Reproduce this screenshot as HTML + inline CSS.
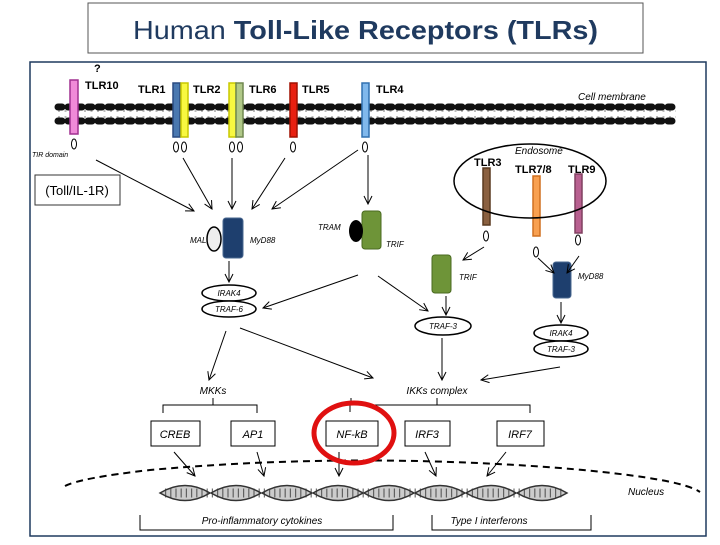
<!DOCTYPE html>
<html><head><meta charset="utf-8"><style>
body{margin:0;background:#fff;width:720px;height:540px;overflow:hidden;font-family:"Liberation Sans",sans-serif}
</style></head><body>
<svg width="720" height="540" viewBox="0 0 720 540" xmlns="http://www.w3.org/2000/svg" font-family="Liberation Sans, sans-serif">
<defs>
<marker id="a" markerWidth="10" markerHeight="10" refX="9" refY="5" orient="auto" markerUnits="userSpaceOnUse"><path d="M1,1 L9,5 L1,9" fill="none" stroke="#000" stroke-width="1"/></marker>
</defs>
<rect x="88" y="3" width="555" height="50" fill="#fff" stroke="#555" stroke-width="1"/>
<text x="133" y="39" textLength="465" lengthAdjust="spacingAndGlyphs" font-size="26" fill="#1f3a5f">Human <tspan font-weight="bold">Toll-Like Receptors (TLRs)</tspan></text>
<rect x="30" y="62" width="676" height="474" fill="#fff" stroke="#1f3a5f" stroke-width="1.5"/>
<path d="M58,111 H676 M58,117 H676" stroke="#bbb" stroke-width="2" stroke-dasharray="2 4.5"/>
<path d="M58,107 H676" stroke="#111" stroke-width="7" stroke-linecap="round" stroke-dasharray="4 6"/>
<path d="M58,121 H676" stroke="#111" stroke-width="7" stroke-linecap="round" stroke-dasharray="4 6"/>
<g stroke-width="1.5">
<rect x="70" y="80" width="8" height="54" fill="#f08ad8" stroke="#a03090"/>
<rect x="173" y="83" width="7" height="54" fill="#4a78b0" stroke="#2a4a80"/>
<rect x="181" y="83" width="7" height="54" fill="#f8f840" stroke="#c8c800"/>
<rect x="229" y="83" width="7" height="54" fill="#f8f840" stroke="#c8c800"/>
<rect x="236" y="83" width="7" height="54" fill="#b0c888" stroke="#708850"/>
<rect x="290" y="83" width="7" height="54" fill="#e82010" stroke="#a01000"/>
<rect x="362" y="83" width="7" height="54" fill="#80b8ec" stroke="#3070b0"/>
<rect x="483" y="168" width="7" height="57" fill="#8a6040" stroke="#5a3a20"/>
<rect x="533" y="176" width="7" height="60" fill="#f8a050" stroke="#d07020"/>
<rect x="575" y="174" width="7" height="59" fill="#b86090" stroke="#804060"/>
</g>
<g fill="#fff" stroke="#000" stroke-width="1">
<ellipse cx="74" cy="144" rx="2.5" ry="5"/><ellipse cx="176" cy="147" rx="2.5" ry="5"/><ellipse cx="184" cy="147" rx="2.5" ry="5"/>
<ellipse cx="232" cy="147" rx="2.5" ry="5"/><ellipse cx="240" cy="147" rx="2.5" ry="5"/><ellipse cx="293" cy="147" rx="2.5" ry="5"/>
<ellipse cx="365" cy="147" rx="2.5" ry="5"/><ellipse cx="486" cy="236" rx="2.5" ry="5"/><ellipse cx="536" cy="252" rx="2.5" ry="5"/><ellipse cx="578" cy="240" rx="2.5" ry="5"/>
</g>
<g font-weight="bold" font-size="11">
<text x="94" y="72">?</text><text x="85" y="89">TLR10</text><text x="138" y="93">TLR1</text><text x="193" y="93">TLR2</text><text x="249" y="93">TLR6</text><text x="302" y="93">TLR5</text><text x="376" y="93">TLR4</text>
<text x="474" y="166">TLR3</text><text x="515" y="173">TLR7/8</text><text x="568" y="173">TLR9</text>
</g>
<g font-style="italic" font-size="10">
<text x="578" y="100">Cell membrane</text><text x="32" y="157" font-size="7">TIR domain</text><text x="515" y="154">Endosome</text>
<text x="628" y="495">Nucleus</text>
</g>
<ellipse cx="530" cy="181" rx="76" ry="37" fill="none" stroke="#000" stroke-width="1.5"/>
<rect x="35" y="175" width="85" height="30" fill="#fff" stroke="#333"/>
<text x="77" y="195" text-anchor="middle" font-size="13">(Toll/IL-1R)</text>
<rect x="223" y="218" width="20" height="40" rx="3" fill="#1e3f6e" stroke="#4a6890"/>
<ellipse cx="214" cy="239" rx="7" ry="12" fill="#eee" stroke="#000" stroke-width="1.5"/>
<rect x="362" y="211" width="19" height="38" rx="3" fill="#6e9438" stroke="#4a6a20"/>
<ellipse cx="356" cy="231" rx="7" ry="11" fill="#000"/>
<rect x="432" y="255" width="19" height="38" rx="3" fill="#6e9438" stroke="#4a6a20"/>
<rect x="553" y="262" width="18" height="36" rx="3" fill="#1e3f6e" stroke="#4a6890"/>
<g font-style="italic" font-size="8">
<text x="190" y="243">MAL</text><text x="250" y="243">MyD88</text><text x="318" y="230">TRAM</text><text x="386" y="247">TRIF</text>
<text x="459" y="280">TRIF</text><text x="578" y="279">MyD88</text>
</g>
<g fill="#fff" stroke="#000" stroke-width="1.5">
<ellipse cx="229" cy="293" rx="27" ry="8"/><ellipse cx="229" cy="309" rx="27" ry="8"/>
<ellipse cx="443" cy="326" rx="28" ry="9"/>
<ellipse cx="561" cy="333" rx="27" ry="8"/><ellipse cx="561" cy="349" rx="27" ry="8"/>
</g>
<g font-style="italic" font-size="8" text-anchor="middle">
<text x="229" y="296">IRAK4</text><text x="229" y="312">TRAF-6</text><text x="443" y="329">TRAF-3</text><text x="561" y="336">IRAK4</text><text x="561" y="352">TRAF-3</text>
</g>
<g font-style="italic" font-size="10" text-anchor="middle"><text x="213" y="394">MKKs</text><text x="437" y="394">IKKs complex</text></g>
<g stroke="#000" stroke-width="1" fill="none" marker-end="url(#a)">
<line x1="96" y1="160" x2="194" y2="211"/><line x1="183" y1="158" x2="212" y2="209"/><line x1="232" y1="158" x2="232" y2="209"/>
<line x1="285" y1="158" x2="252" y2="209"/><line x1="358" y1="150" x2="272" y2="209"/><line x1="368" y1="155" x2="368" y2="204"/>
<line x1="484" y1="247" x2="463" y2="260"/>
<line x1="538" y1="258" x2="554" y2="273"/><line x1="579" y1="256" x2="567" y2="273"/>
<line x1="229" y1="261" x2="229" y2="282"/><line x1="358" y1="275" x2="263" y2="308"/><line x1="378" y1="276" x2="428" y2="311"/>
<line x1="446" y1="296" x2="446" y2="315"/><line x1="561" y1="302" x2="561" y2="323"/>
<line x1="226" y1="331" x2="209" y2="380"/><line x1="240" y1="328" x2="373" y2="378"/><line x1="442" y1="338" x2="442" y2="380"/>
<line x1="560" y1="367" x2="481" y2="380"/>
<line x1="174" y1="452" x2="195" y2="476"/><line x1="257" y1="452" x2="264" y2="476"/><line x1="339" y1="452" x2="339" y2="476"/>
<line x1="425" y1="452" x2="436" y2="476"/><line x1="506" y1="452" x2="487" y2="476"/>
</g>
<g stroke="#000" stroke-width="1" fill="none">
<path d="M163,413 V405 H257 V413 M213,405 V398"/><path d="M350,412 V405 H530 V413 M437,405 V398 M351,405 V398"/>
<path d="M140,515 V530 H393 V515"/><path d="M432,515 V530 H591 V515"/>
<path d="M65,486 Q80,478 150,470 Q350,452 560,468 Q680,478 700,492" stroke-dasharray="7 5" stroke-width="2"/>
</g>
<g fill="#fff" stroke="#000" stroke-width="1">
<rect x="151" y="421" width="49" height="25"/><rect x="231" y="421" width="44" height="25"/><rect x="326" y="421" width="52" height="25"/>
<rect x="405" y="421" width="45" height="25"/><rect x="497" y="421" width="47" height="25"/>
</g>
<g font-style="italic" font-size="11" text-anchor="middle">
<text x="175" y="438">CREB</text><text x="253" y="438">AP1</text><text x="352" y="438">NF-kB</text><text x="427" y="438">IRF3</text><text x="520" y="438">IRF7</text>
<text x="262" y="524" font-size="10">Pro-inflammatory cytokines</text><text x="489" y="524" font-size="10">Type I interferons</text>
</g>
<ellipse cx="354" cy="433" rx="40" ry="30" fill="none" stroke="#e01010" stroke-width="5"/>
<g stroke="#333" stroke-width="1.5" fill="#ccc">
<path d="M160,493 Q185,478 210,493 Q185,508 160,493Z"/><path d="M211,493 Q236,478 261,493 Q236,508 211,493Z"/>
<path d="M262,493 Q287,478 312,493 Q287,508 262,493Z"/><path d="M313,493 Q338,478 363,493 Q338,508 313,493Z"/>
<path d="M364,493 Q389,478 414,493 Q389,508 364,493Z"/><path d="M415,493 Q440,478 465,493 Q440,508 415,493Z"/>
<path d="M466,493 Q491,478 516,493 Q491,508 466,493Z"/><path d="M517,493 Q542,478 567,493 Q542,508 517,493Z"/>
</g>
<path d="M165,493 H563" stroke="#333" stroke-width="9" stroke-dasharray="1.2 4" fill="none" opacity="0.7"/>
</svg>
</body></html>
